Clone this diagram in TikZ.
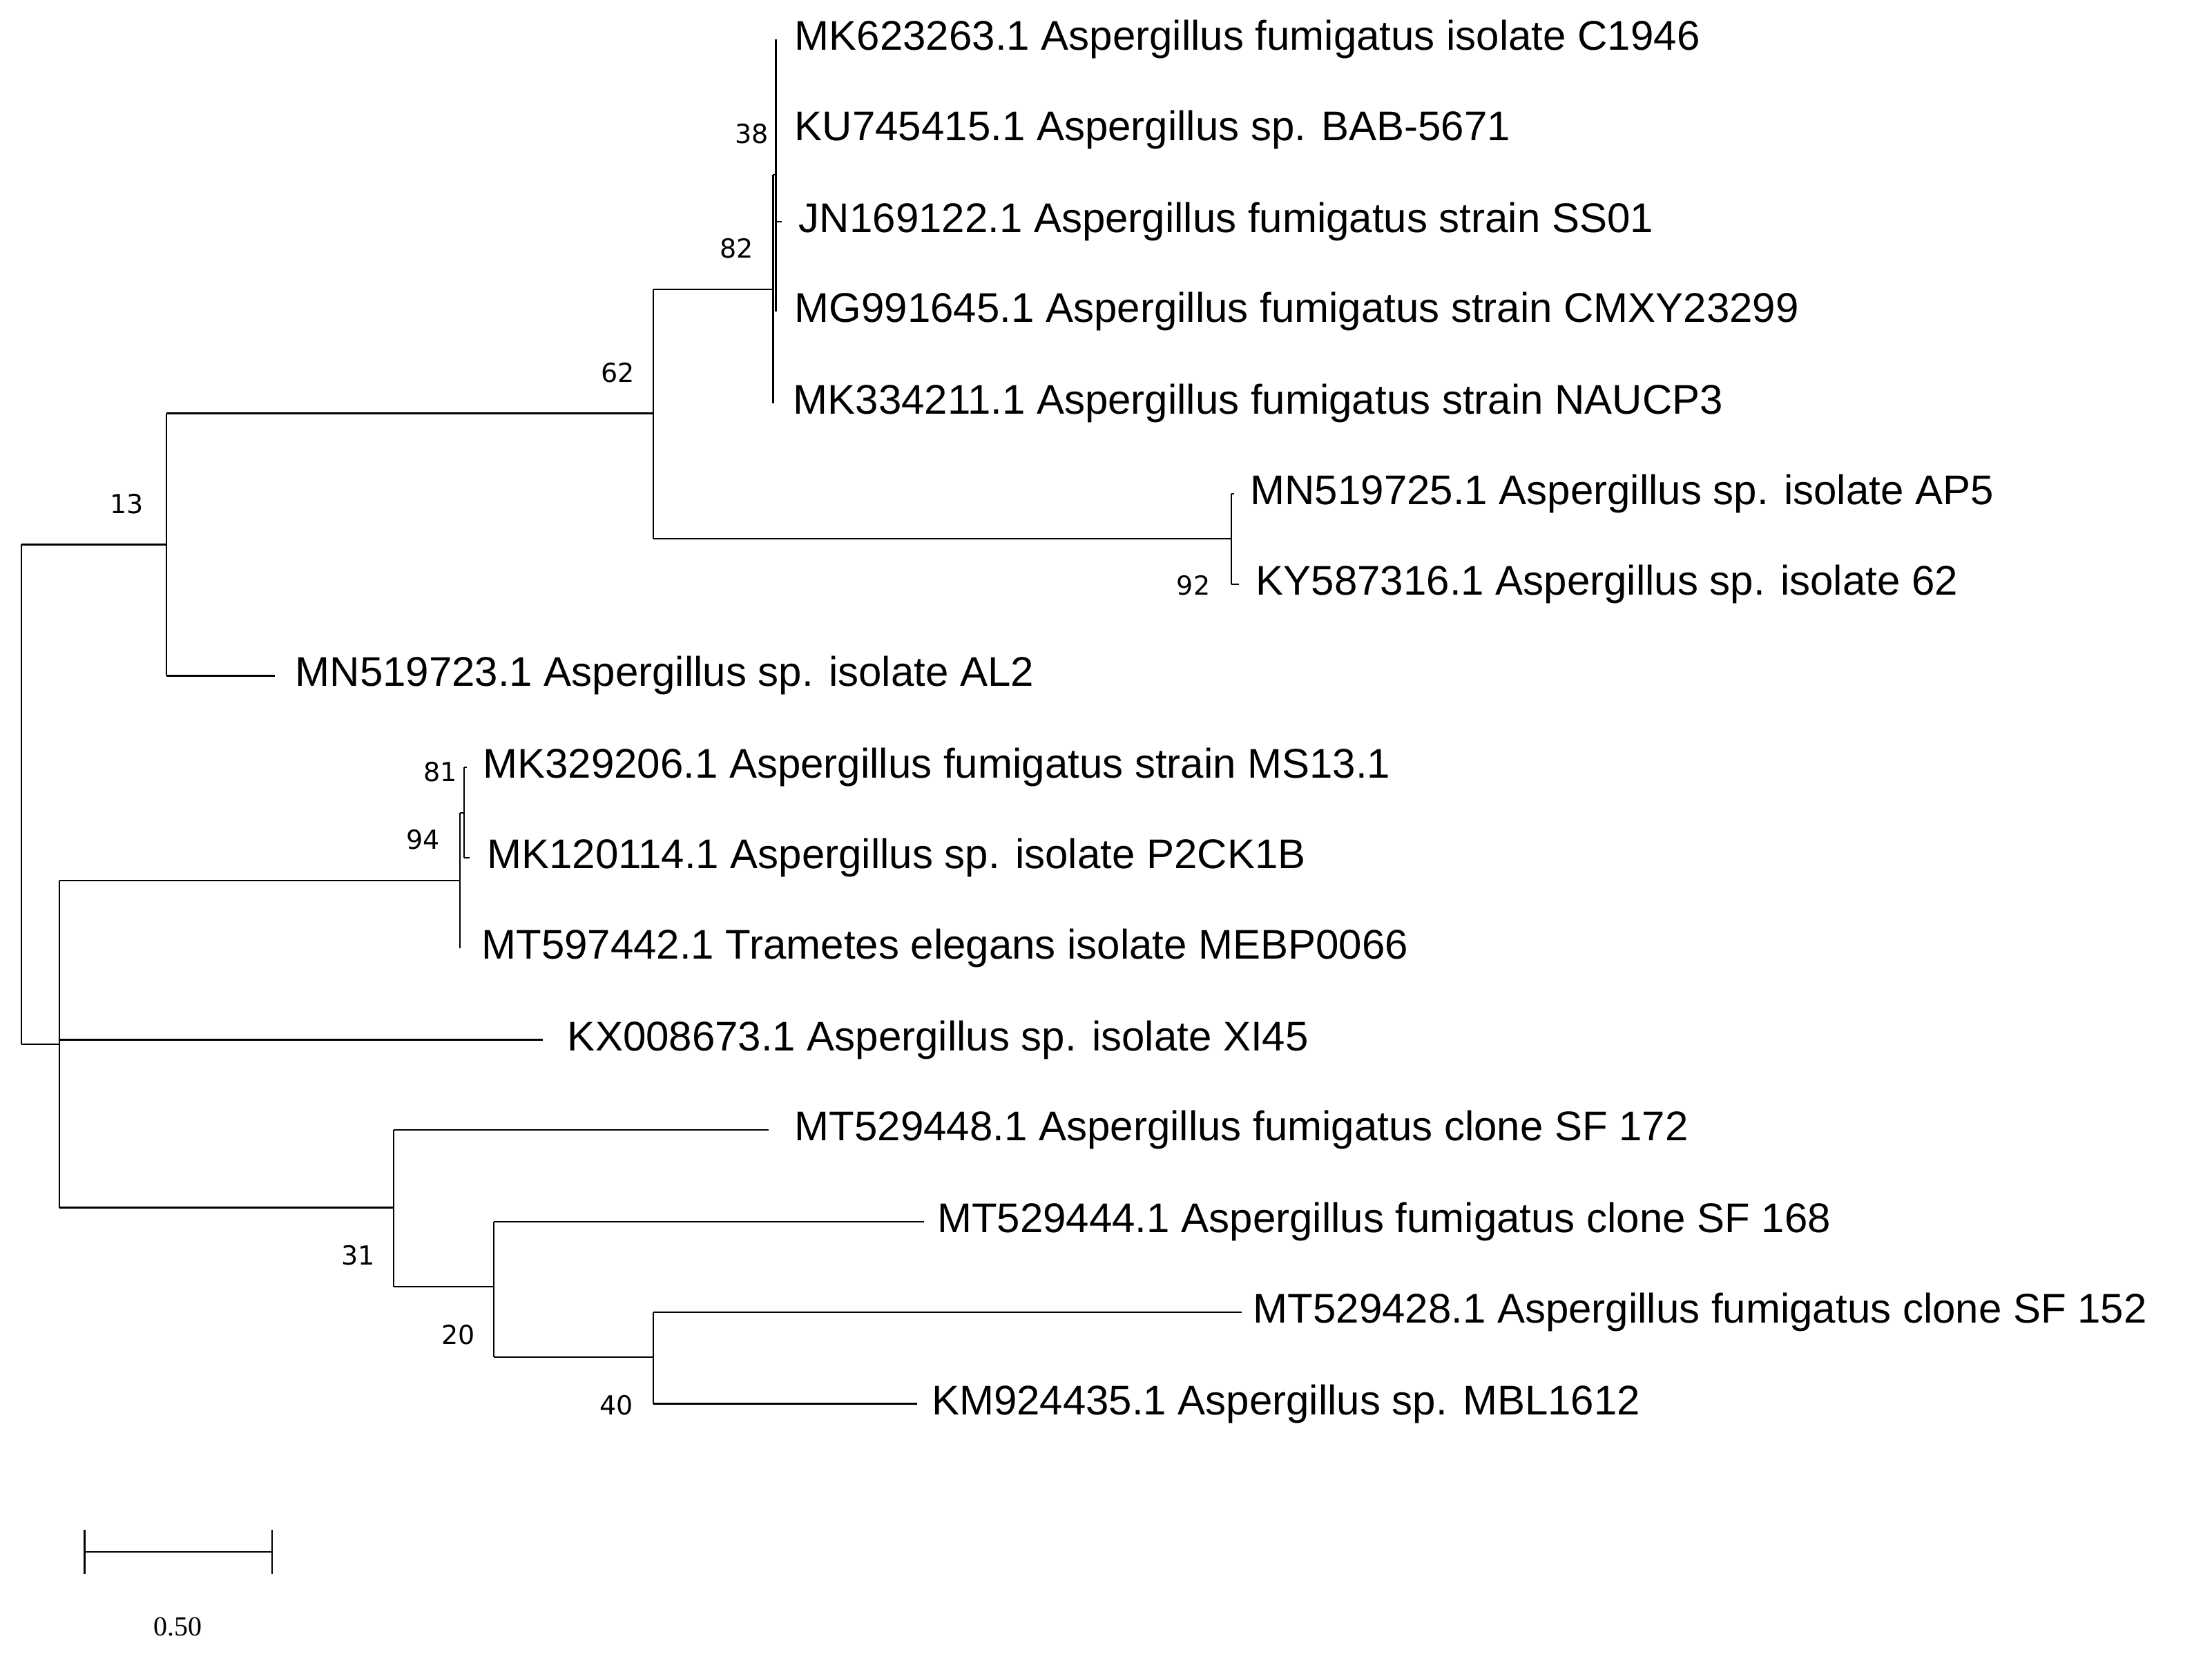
\documentclass[tikz,border=0pt]{standalone}
\usepackage{fontspec}
\setmainfont{Liberation Sans}
\newfontfamily\bsfont{DejaVu Sans}
\newfontfamily\scfont{Liberation Serif}
\begin{document}
\begin{tikzpicture}[x=0.5107pt,y=-0.5107pt,
  br/.style={line width=0.55pt},
  leaf/.style={anchor=west,inner sep=0pt,font=\fontsize{15}{18}\selectfont},
  boot/.style={inner sep=0pt,font=\bsfont\fontsize{9.5}{11}\selectfont}]
\useasboundingbox (0,0) rectangle (1568,1177);
% internal nodes
\coordinate (root) at (15,563);
\coordinate (n13) at (118,386);
\coordinate (n62) at (463,293);
\coordinate (n82) at (548,205);
\coordinate (n38) at (550,124);
\coordinate (n92) at (873,382);
\coordinate (nL) at (42,740);
\coordinate (n94) at (326,624);
\coordinate (n81) at (329,576);
\coordinate (n31) at (279,856);
\coordinate (n20) at (350,912);
\coordinate (n40) at (463,962);
% leaf tips
\coordinate (t1) at (550,28);
\coordinate (t2) at (550,92);
\coordinate (t3) at (554,157);
\coordinate (t4) at (550,221);
\coordinate (t5) at (548,286);
\coordinate (t6) at (875,350);
\coordinate (t7) at (878,414);
\coordinate (t8) at (195,479);
\coordinate (t9) at (331,544);
\coordinate (t10) at (333,608);
\coordinate (t11) at (326,672);
\coordinate (t12) at (385,737);
\coordinate (t13) at (545,801);
\coordinate (t14) at (655,866);
\coordinate (t15) at (880,930);
\coordinate (t16) at (650,995);
% labels
\node[leaf] (l1) at (563,28) {MK623263.1 Aspergillus fumigatus isolate C1946};
\node[leaf] (l2) at (563,92) {KU745415.1 Aspergillus sp. BAB-5671};
\node[leaf] (l3) at (566,157) {JN169122.1 Aspergillus fumigatus strain SS01};
\node[leaf] (l4) at (563,221) {MG991645.1 Aspergillus fumigatus strain CMXY23299};
\node[leaf] (l5) at (562,286) {MK334211.1 Aspergillus fumigatus strain NAUCP3};
\node[leaf] (l6) at (886,350) {MN519725.1 Aspergillus sp. isolate AP5};
\node[leaf] (l7) at (890,414) {KY587316.1 Aspergillus sp. isolate 62};
\node[leaf] (l8) at (209,479) {MN519723.1 Aspergillus sp. isolate AL2};
\node[leaf] (l9) at (342,544) {MK329206.1 Aspergillus fumigatus strain MS13.1};
\node[leaf] (l10) at (345,608) {MK120114.1 Aspergillus sp. isolate P2CK1B};
\node[leaf] (l11) at (341,672) {MT597442.1 Trametes elegans isolate MEBP0066};
\node[leaf] (l12) at (402,737) {KX008673.1 Aspergillus sp. isolate XI45};
\node[leaf] (l13) at (563,801) {MT529448.1 Aspergillus fumigatus clone SF 172};
\node[leaf] (l14) at (664,866) {MT529444.1 Aspergillus fumigatus clone SF 168};
\node[leaf] (l15) at (888,930) {MT529428.1 Aspergillus fumigatus clone SF 152};
\node[leaf] (l16) at (660,995) {KM924435.1 Aspergillus sp. MBL1612};
% branches
\draw[br] (root |- n13) -- (root |- nL);
\draw[br] (root) ++(0,0) (root |- n13) -- (n13);
\draw[br] (root |- nL) -- (nL);
\draw[br] (n13 |- n62) -- (n13 |- t8);
\draw[br] (n13 |- n62) -- (n62);
\draw[br] (n13 |- t8) -- (t8);
\draw[br] (n62 |- n82) -- (n62 |- n92);
\draw[br] (n62 |- n82) -- (n82);
\draw[br] (n62 |- n92) -- (n92);
\draw[br] (n82 |- n38) -- (n82 |- t5);
\draw[br] (n82 |- n38) -- (n38);
\draw[br] (n38 |- t1) -- (n38 |- t4);
\draw[br] (n38 |- t3) -- (t3);
\draw[br] (n92 |- t6) -- (n92 |- t7);
\draw[br] (n92 |- t6) -- (t6);
\draw[br] (n92 |- t7) -- (t7);
\draw[br] (nL |- n94) -- (nL |- n31);
\draw[br] (nL |- n94) -- (n94);
\draw[br] (nL |- t12) -- (t12);
\draw[br] (nL |- n31) -- (n31);
\draw[br] (n94 |- n81) -- (n94 |- t11);
\draw[br] (n94 |- n81) -- (n81);
\draw[br] (n81 |- t9) -- (n81 |- t10);
\draw[br] (n81 |- t9) -- (t9);
\draw[br] (n81 |- t10) -- (t10);
\draw[br] (n31 |- t13) -- (n31 |- n20);
\draw[br] (n31 |- t13) -- (t13);
\draw[br] (n31 |- n20) -- (n20);
\draw[br] (n20 |- t14) -- (n20 |- n40);
\draw[br] (n20 |- t14) -- (t14);
\draw[br] (n20 |- n40) -- (n40);
\draw[br] (n40 |- t15) -- (n40 |- t16);
\draw[br] (n40 |- t15) -- (t15);
\draw[br] (n40 |- t16) -- (t16);
% bootstrap
\node[boot] (b38) at (533,95) {38};
\node[boot] (b82) at (522,176) {82};
\node[boot] (b62) at (438,264) {62};
\node[boot] (b13) at (90,357) {13};
\node[boot] (b92) at (846,415) {92};
\node[boot] (b81) at (312,547) {81};
\node[boot] (b94) at (300,595) {94};
\node[boot] (b31) at (254,890) {31};
\node[boot] (b20) at (325,946) {20};
\node[boot] (b40) at (437,996) {40};
% scale bar
\coordinate (s1) at (60,1100);
\coordinate (s2) at (193,1100);
\draw[br] (s1) -- (s2);
\draw[br] ([yshift=-8]s1) -- ([yshift=8]s1);
\draw[br] ([yshift=-8]s2) -- ([yshift=8]s2);
\node[inner sep=0pt,font=\scfont\fontsize{10}{12}\selectfont] (sl) at (126,1153) {0.50};
\end{tikzpicture}
\end{document}
